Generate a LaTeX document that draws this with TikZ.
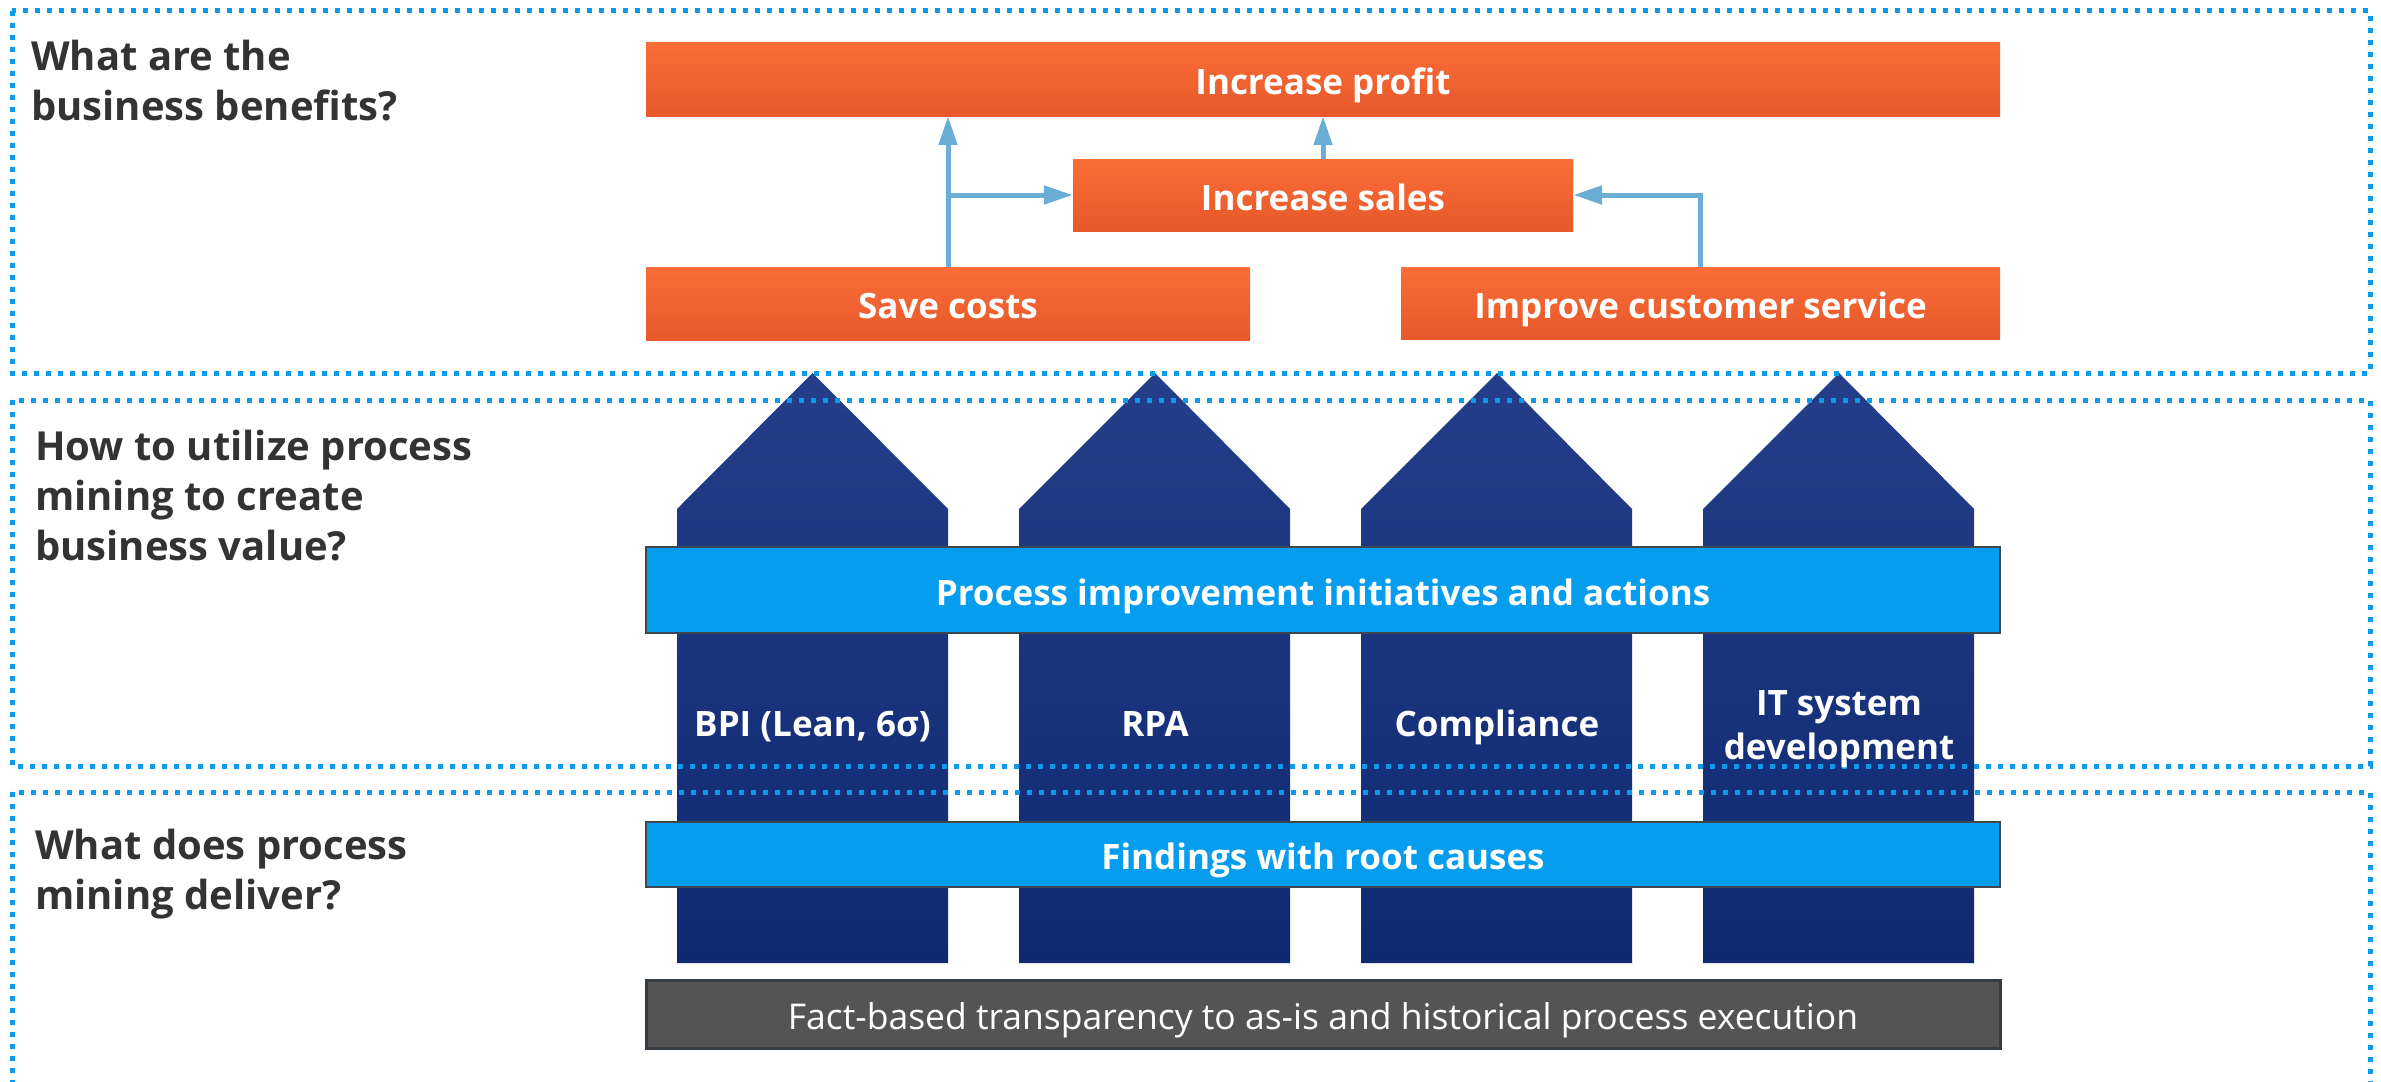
\documentclass[tikz,border=0pt]{standalone}
\usepackage{fontspec}
\setmainfont{Open Sans}
\usetikzlibrary{arrows.meta}
\definecolor{frameblue}{HTML}{0B9AEC}
\definecolor{orangeA}{HTML}{F96D37}
\definecolor{orangeB}{HTML}{E8582A}
\definecolor{pillarA}{HTML}{243E89}
\definecolor{pillarB}{HTML}{0E2970}
\definecolor{barblue}{HTML}{079DEF}
\definecolor{barborder}{HTML}{3E4650}
\definecolor{factgray}{HTML}{545454}
\definecolor{factborder}{HTML}{363C44}
\definecolor{arrowblue}{HTML}{6AAED6}
\definecolor{headgray}{HTML}{333333}
\tikzset{
  frame/.style={draw=frameblue, line width=5pt, dash pattern=on 5pt off 7pt},
  boxtext/.style={text height=30pt, text depth=0pt},
  labeltext/.style={text height=25pt, text depth=0pt},
  orangebox/.style={rectangle, inner sep=0pt, top color=orangeA, bottom color=orangeB, draw=none,
     text=white, font=\fontsize{35}{40}\selectfont\bfseries, boxtext},
  bluebar/.style={rectangle, inner sep=0pt, fill=barblue, draw=barborder, line width=2.5pt,
     minimum width=1354pt, text=white, font=\fontsize{35}{40}\selectfont\bfseries, boxtext},
  factbar/.style={rectangle, inner sep=0pt, fill=factgray, draw=factborder, line width=3pt,
     minimum width=1354pt, minimum height=68pt, text=white, font=\fontsize{35.5}{40}\selectfont, boxtext},
  heading/.style={anchor=base west, inner sep=0pt, align=left, text=headgray,
     font=\fontsize{40}{50}\selectfont\bfseries},
  pillarlabel/.style={inner sep=0pt, align=center, text=white,
     font=\fontsize{35}{44}\selectfont\bfseries},
  arr/.style={draw=arrowblue, line width=5pt, -{Triangle[length=29pt,width=18pt]}},
}
\begin{document}
\begin{tikzpicture}[x=1pt,y=-1pt]
\useasboundingbox (0,0) rectangle (2381,1081);
\clip (0,0) rectangle (2381,1081);
% pillars
\foreach \L/\T in {677/812.5, 1019/1155, 1361/1497, 1703/1839}{
  \pgfmathsetmacro{\R}{\L+271}
  \shade[top color=pillarA, bottom color=pillarB]
    (\L,963) -- (\L,509) -- (\T,373) -- (\R,509) -- (\R,963) -- cycle;
}
% bars
\node[bluebar, minimum height=86pt] (actions) at (1323,590) {Process improvement initiatives and actions};
\node[bluebar, minimum height=65pt] (findings) at (1323,854.5) {Findings with root causes};
\node[factbar] (fact) at (1323,1014) {Fact-based transparency to as-is and historical process execution};
% frames
\draw[frame] (12,11) rectangle (2370,373);
\draw[frame] (12,400) rectangle (2370,766);
\draw[frame] (12,792) rectangle (2370,1110);
% pillar labels
\node[pillarlabel, labeltext] (bpi) at (812.5,724) {BPI (Lean, 6σ)};
\node[pillarlabel, labeltext] (rpa) at (1155,724) {RPA};
\node[pillarlabel, labeltext] (comp) at (1497,724) {Compliance};
\node[pillarlabel] (itsys) at (1839,729) {IT system\\development};
% orange boxes
\node[orangebox, minimum width=1354pt, minimum height=73pt] (profit) at (1323,79.5) {Increase profit};
\node[orangebox, minimum width=500pt, minimum height=72pt] (sales) at (1323,195) {Increase sales};
\node[orangebox, minimum width=604pt, minimum height=73pt] (save) at (948,303.5) {Save costs};
\node[orangebox, minimum width=599pt, minimum height=72pt] (improve) at (1700.5,303) {Improve customer service};
% arrows
\draw[arr] (save.north) -- (save.north |- profit.south);
\coordinate (branch) at (save.north |- sales.west);
\draw[arr] (branch) -- (sales.west);
\draw[arr] (sales.north) -- (profit.south);
\draw[arr] (improve.north) |- (sales.east);
% headings (base anchor = baseline of last line)
\node[heading] (q1) at (31,120) {What are the\\business benefits?};
\node[heading] (q2) at (35,560) {How to utilize process\\mining to create\\business value?};
\node[heading] (q3) at (35,909) {What does process\\mining deliver?};
\end{tikzpicture}
\end{document}
